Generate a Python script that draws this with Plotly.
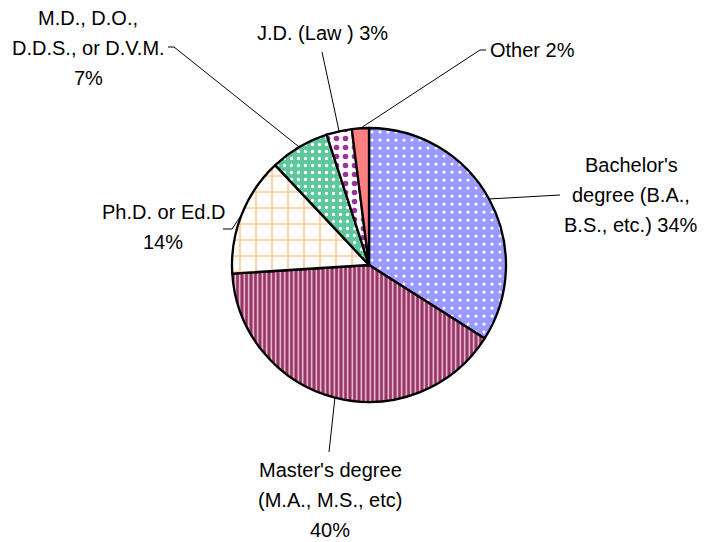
import math
import plotly.graph_objects as go

# ---- data ----
categories = [
    "Bachelor's\ndegree (B.A.,\nB.S., etc.) 34%",
    "Master's degree\n(M.A., M.S., etc)\n40%",
    "Ph.D. or Ed.D\n14%",
    "M.D., D.O.,\nD.D.S., or D.V.M.\n7%",
    "J.D. (Law ) 3%",
    "Other 2%",
]
values = [34, 40, 14, 7, 3, 2]

# ---- style ----
W, H = 714, 542
OFF = 8  # page body margin offset
CX, CY, R = 369, 265, 137
bg_colors = ["#9999FF", "#993366", "#FFFFFF", "#5EC79B", "#FFFFFF", "#FF8080"]
fg_colors = ["#FFFFFF", "#F3DCE8", "#FFCC99", "#FFFFFF", "#993399", "#FF8080"]
shapes_p = [".", "|", "+", ".", ".", ""]
sizes = [8, 4.5, 16, 7, 9, 8]
solid = [0.12, 0.3, 0.2, 0.18, 0.3, 0.3]

# label text centres (px, reference image) and leader starting points
label_pos = [(631, 195), (330, 500), (163, 227), (88, 48), (322, 33), (532, 50)]
leader_start = [[(560, 195)], [(329, 452)], [(223, 229), (232, 229)],
                [(168, 47), (174, 47)], [(322, 52)], [(486, 50), (480, 50)]]
LINE_H = 30
FONT = dict(family="Liberation Sans, Arial, sans-serif", size=20, color="#000000")


def px(x, y):
    return (x - OFF) / W, 1 - (y - OFF) / H


fig = go.Figure()
fig.add_trace(go.Pie(
    values=values,
    labels=[c.replace("\n", " ") for c in categories],
    sort=False,
    direction="clockwise",
    rotation=0,
    textinfo="none",
    hoverinfo="skip",
    showlegend=False,
    domain=dict(x=[(CX - R - OFF) / W, (CX + R - OFF) / W],
                y=[1 - (CY + R - OFF) / H, 1 - (CY - R - OFF) / H]),
    marker=dict(
        colors=bg_colors,
        line=dict(color="#000000", width=2.3),
        pattern=dict(shape=shapes_p, bgcolor=bg_colors, fgcolor=fg_colors,
                     size=sizes, solidity=solid, fillmode="replace"),
    ),
))

total = sum(values)
cum = 0
shapes = []
annotations = []
for i, v in enumerate(values):
    theta = 2 * math.pi * (cum + v / 2) / total
    cum += v
    ex = CX + R * math.sin(theta)
    ey = CY - R * math.cos(theta)
    pts = leader_start[i] + [(ex, ey)]
    path = ""
    for j, (x, y) in enumerate(pts):
        fx, fy = px(x, y)
        path += ("M" if j == 0 else "L") + f"{fx},{fy} "
    shapes.append(dict(type="path", xref="paper", yref="paper", path=path.strip(),
                       line=dict(color="#000000", width=1)))
    lines = categories[i].split("\n")
    lx, ly = label_pos[i]
    n = len(lines)
    for k, t in enumerate(lines):
        yy = ly + (k - (n - 1) / 2) * LINE_H
        fx, fy = px(lx, yy)
        annotations.append(dict(text=t, x=fx, y=fy, xref="paper", yref="paper",
                                xanchor="center", yanchor="middle", showarrow=False,
                                borderpad=0, borderwidth=0, font=FONT))

fig.update_layout(
    width=W, height=H,
    margin=dict(l=0, r=0, t=0, b=0),
    paper_bgcolor="#FFFFFF", plot_bgcolor="#FFFFFF",
    shapes=shapes, annotations=annotations,
)
fig.write_html("out.html")
